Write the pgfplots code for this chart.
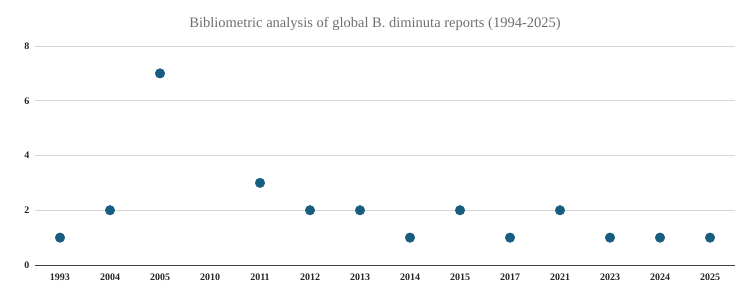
\documentclass[border=0pt]{standalone}
\usepackage{pgfplots}
\pgfplotsset{compat=1.18}
\usepackage{fontspec}
\setmainfont{Liberation Serif}
\definecolor{dotblue}{RGB}{22,93,128}
\definecolor{gridgray}{RGB}{214,214,214}
\definecolor{titlegray}{RGB}{110,110,110}
\begin{document}
\begin{tikzpicture}[x=1pt,y=1pt]
\path (0,0) rectangle (750,295);
\begin{axis}[
  at={(35pt,30pt)}, anchor=south west,
  width=700pt, height=219pt, scale only axis,
  xmin=-0.5, xmax=13.5, ymin=0, ymax=8,
  xtick={0,...,13},
  xticklabels={1993,2004,2005,2010,2011,2012,2013,2014,2015,2017,2021,2023,2024,2025},
  ytick={0,2,4,6,8},
  axis x line*=bottom, axis y line*=left,
  x axis line style={draw=black!75, line width=0.9pt, -},
  y axis line style={draw=none},
  major tick length=0pt,
  ymajorgrids, grid style={gridgray, line width=0.9pt},
  tick label style={font=\fontsize{10}{11}\selectfont\bfseries, text=black!85},
  /pgf/number format/assume math mode=true,
  xticklabel style={yshift=-5pt},
  yticklabel style={xshift=-2pt},
  clip=false,
]
\addplot[only marks, mark=*, mark size=4.8pt, color=dotblue] coordinates {
  (0,1) (1,2) (2,7) (4,3) (5,2) (6,2) (7,1) (8,2) (9,1) (10,2) (11,1) (12,1) (13,1)
};
\end{axis}
\node[text=titlegray, font=\fontsize{14.5}{16}\selectfont] at (375,271) {Bibliometric analysis of global B. diminuta reports (1994-2025)};
\end{tikzpicture}
\end{document}
